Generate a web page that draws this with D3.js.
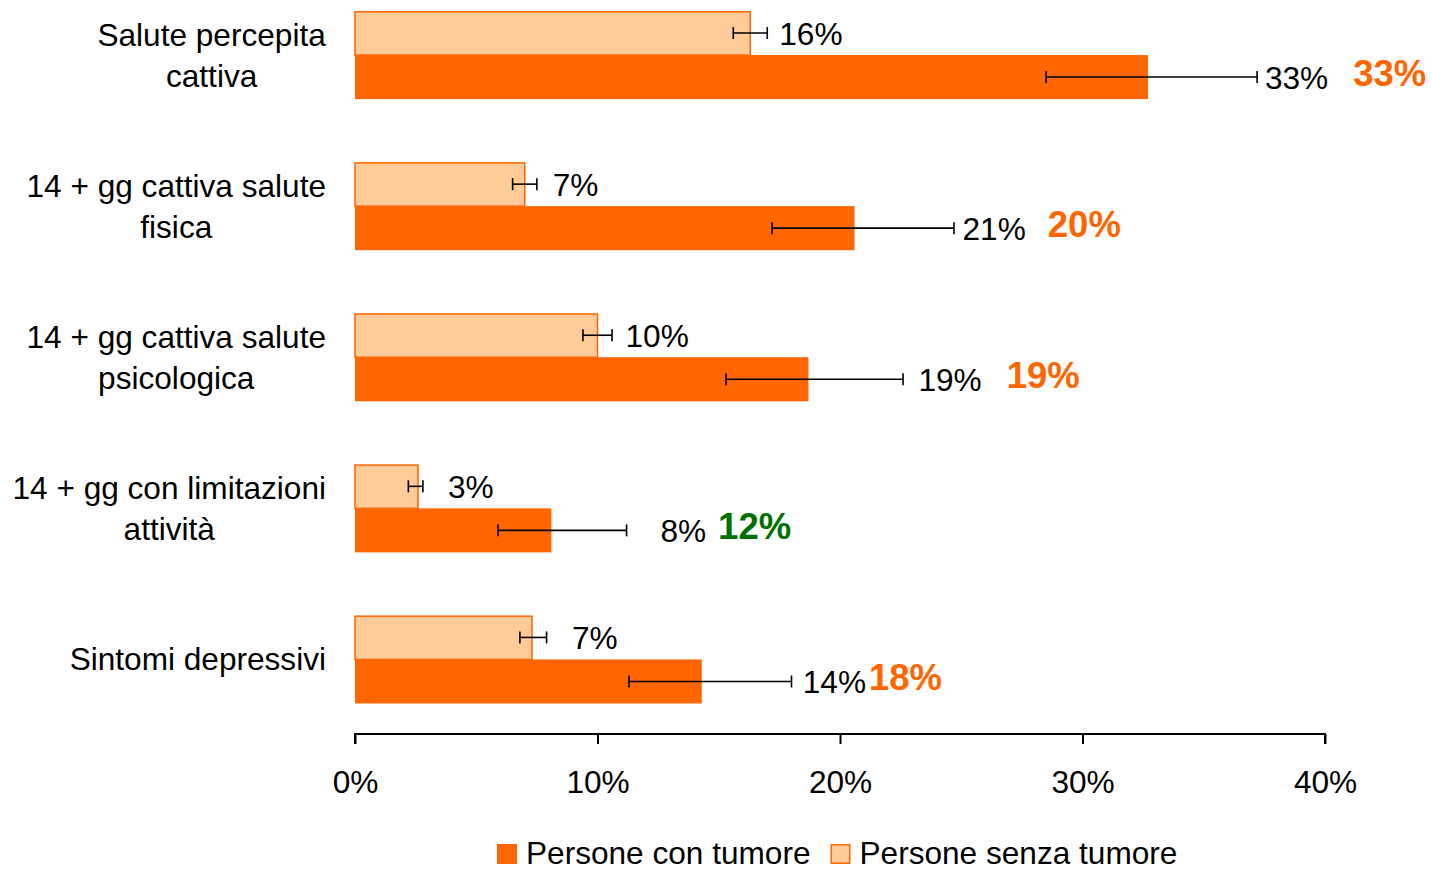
<!DOCTYPE html>
<html>
<head>
<meta charset="utf-8">
<script src="https://cdn.jsdelivr.net/npm/d3@7"></script>
<style>
  html, body { margin: 0; padding: 0; background: #fff; }
  svg text { font-family: Arial, "Liberation Sans", sans-serif; }
</style>
</head>
<body>
<svg id="chart" width="1432" height="871"></svg>
<script>
// ---------- DATA ----------
const categories = [
  "Salute percepita\ncattiva",
  "14 + gg cattiva salute\nfisica",
  "14 + gg cattiva salute\npsicologica",
  "14 + gg con limitazioni\nattività",
  "Sintomi depressivi"
];
const seriesNames = ["Persone con tumore", "Persone senza tumore"];
const withTumor      = [32.7, 20.6, 18.7, 8.1, 14.3];
const withTumorLow   = [28.5, 17.2, 15.3, 5.9, 11.3];
const withTumorHigh  = [37.2, 24.7, 22.6, 11.2, 18.0];
const withoutTumor     = [16.3, 7.0, 10.0, 2.6, 7.3];
const withoutTumorLow  = [15.6, 6.5, 9.4, 2.2, 6.8];
const withoutTumorHigh = [17.0, 7.5, 10.6, 2.8, 7.9];
const poolLabels = ["33%", "20%", "19%", "12%", "18%"];
const poolStatus = ["pari", "pari", "pari", "migliore", "pari"];
const xTicks = [0, 10, 20, 30, 40];

// ---------- LAYOUT / STYLE ----------
const darkColor = "#FF6600", lightColor = "#FFCC99", greenColor = "#007000";
const fontSize = 31.6;
const svg = d3.select("#chart");
const x = d3.scaleLinear().domain([0, 40]).range([355, 1325]);
const y = d3.scaleBand().domain(categories).range([-20.5, 735])
  .paddingInner(63 / 151).paddingOuter(63 / 151 / 2);
const half = y.bandwidth() / 2;
const fmt = v => d3.format(".0f")(v) + "%";
const poolGap = [25, 22, 25, 12, 3];
const lightGap = [29, 28, 28, 30, 40];
const darkGap = [117, 108, 110, 109, 101];

const rows = categories.map((c, i) => ({
  c, i,
  dark: withTumor[i], dLo: withTumorLow[i], dHi: withTumorHigh[i],
  light: withoutTumor[i], lLo: withoutTumorLow[i], lHi: withoutTumorHigh[i]
}));

// Axis
const axisG = svg.append("g").attr("transform", "translate(0,734)");
axisG.call(d3.axisBottom(x).tickValues(xTicks).tickSize(10).tickPadding(0).tickFormat(d => d + "%"));
axisG.select(".domain").attr("stroke", "#000").attr("stroke-width", 2).attr("d", `M${x(0)},10V0H${x(40)}V10`);
axisG.selectAll(".tick line").attr("stroke", "#000").attr("stroke-width", 2);
axisG.selectAll(".tick text").attr("font-size", fontSize).attr("fill", "#000")
  .attr("font-family", "Arial, 'Liberation Sans', sans-serif")
  .attr("dy", null).attr("y", 59);

// Bars
const g = svg.append("g");
g.selectAll("rect.light").data(rows).join("rect").attr("class", "light")
  .attr("x", x(0)).attr("y", d => y(d.c) + 0.75)
  .attr("width", d => x(d.light) - x(0)).attr("height", half - 0.75)
  .attr("fill", lightColor).attr("stroke", darkColor).attr("stroke-width", 1.5);
g.selectAll("rect.dark").data(rows).join("rect").attr("class", "dark")
  .attr("x", x(0)).attr("y", d => y(d.c) + half)
  .attr("width", d => x(d.dark) - x(0)).attr("height", half)
  .attr("fill", darkColor);

// Error bars
function errBar(sel, lo, hi, cy) {
  sel.each(function(d) {
    const e = d3.select(this);
    const yy = cy(d);
    e.append("line").attr("x1", x(lo(d))).attr("x2", x(hi(d))).attr("y1", yy).attr("y2", yy);
    e.append("line").attr("x1", x(lo(d))).attr("x2", x(lo(d))).attr("y1", yy - 6).attr("y2", yy + 6);
    e.append("line").attr("x1", x(hi(d))).attr("x2", x(hi(d))).attr("y1", yy - 6).attr("y2", yy + 6);
  });
  sel.attr("stroke", "#000").attr("stroke-width", 1.6);
}
g.selectAll("g.errL").data(rows).join("g").attr("class", "errL")
  .call(errBar, d => d.lLo, d => d.lHi, d => y(d.c) + half / 2);
g.selectAll("g.errD").data(rows).join("g").attr("class", "errD")
  .call(errBar, d => d.dLo, d => d.dHi, d => y(d.c) + half + half / 2);

// Value labels
g.selectAll("text.vl").data(rows).join("text").attr("class", "vl")
  .attr("x", d => x(d.light) + lightGap[d.i]).attr("y", d => y(d.c) + half / 2 + 12)
  .attr("font-size", fontSize).attr("fill", "#000").text(d => fmt(d.light));
const darkLabelX = d => x(d.dark) + darkGap[d.i];
const dl = g.selectAll("text.vd").data(rows).join("text").attr("class", "vd")
  .attr("x", darkLabelX).attr("y", d => y(d.c) + half + half / 2 + 12)
  .attr("font-size", fontSize).attr("fill", "#000").text(d => fmt(d.dark));

// Pool labels
dl.each(function(d) {
  const end = darkLabelX(d) + this.getComputedTextLength();
  g.append("text").attr("x", end + poolGap[d.i]).attr("y", y(d.c) + half + half / 2 + 9)
    .attr("font-size", 36.5).attr("font-weight", "bold")
    .attr("fill", poolStatus[d.i] === "migliore" ? greenColor : darkColor)
    .text(poolLabels[d.i]);
});

// Category labels
rows.forEach(d => {
  const lines = d.c.split("\n");
  const t = svg.append("text").attr("font-size", fontSize).attr("fill", "#000").attr("text-anchor", "middle");
  const cy = y(d.c) + y.bandwidth() / 2;
  lines.forEach((ln, j) => {
    t.append("tspan").attr("x", 0).attr("y", cy + 11 + (j - (lines.length - 1) / 2) * 41).text(ln);
  });
  const w = t.node().getBBox().width;
  t.selectAll("tspan").attr("x", 326 - w / 2);
});

// Legend
const leg = svg.append("g");
let lx = 497;
seriesNames.forEach((s, i) => {
  leg.append("rect").attr("x", lx + (i ? 0.75 : 0)).attr("y", 844 + (i ? 0.75 : 0))
    .attr("width", i ? 18.5 : 20).attr("height", i ? 18.5 : 20)
    .attr("fill", i ? lightColor : darkColor)
    .attr("stroke", i ? darkColor : "none").attr("stroke-width", 1.5);
  const t = leg.append("text").attr("x", lx + 29).attr("y", 863.5)
    .attr("font-size", fontSize).attr("fill", "#000").text(s);
  lx = lx + 29 + t.node().getComputedTextLength() + 20;
});
</script>
</body>
</html>
